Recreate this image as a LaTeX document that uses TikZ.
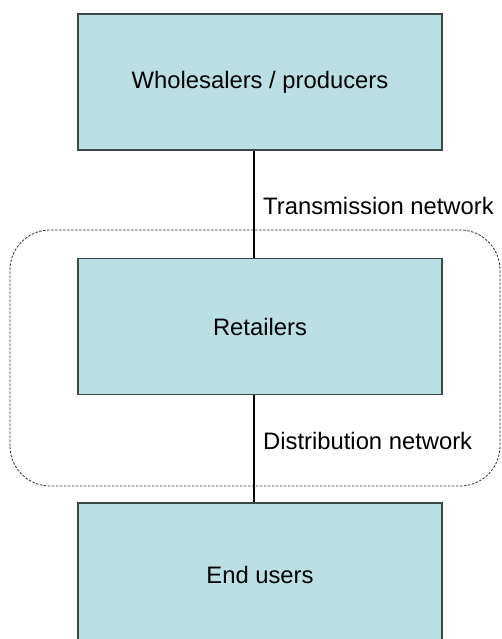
\documentclass[tikz,border=0pt]{standalone}
\usepackage{fontspec}
\setmainfont{Liberation Sans}
\definecolor{boxfill}{HTML}{BBE0E3}
\definecolor{boxline}{HTML}{3A4848}
\begin{document}
\begin{tikzpicture}[x=1pt,y=1pt,
  entity/.style={draw=boxline, line width=1.3pt, fill=boxfill, minimum width=364pt, minimum height=136pt, inner sep=0pt, font=\fontsize{23.8}{28}\selectfont},
  link/.style={line width=2pt, black},
  netlabel/.style={anchor=base west, inner sep=0pt, font=\fontsize{23.8}{28}\selectfont},
  region/.style={draw=black!80, dashed, dash pattern=on 2.5pt off 1.5pt, line width=0.8pt, rounded corners=40pt}]
\useasboundingbox (0,0) rectangle (502,639);
\begin{scope}
\clip (0,0) rectangle (502,639);
\draw[region] (10,153) rectangle (500,409);
\node[entity] (top) at (260,557) {Wholesalers / producers};
\node[entity] (mid) at (260,312.5) {Retailers};
\node[entity, minimum height=144pt] (bot) at (260,64) {End users};
\coordinate (lx) at (254,0);
\draw[link] (top.south -| lx) -- (mid.north -| lx);
\draw[link] (mid.south -| lx) -- (bot.north -| lx);
\node[netlabel] (tlab) at (263,424) {Transmission network};
\node[netlabel] (dlab) at (263,189) {Distribution network};
\end{scope}
\end{tikzpicture}
\end{document}
